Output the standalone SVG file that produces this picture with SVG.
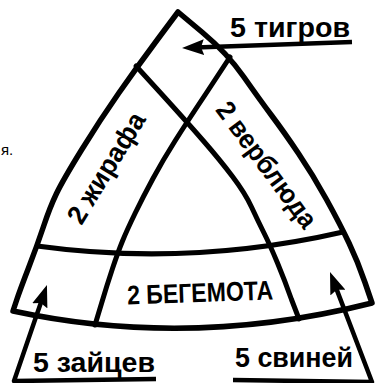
<svg xmlns="http://www.w3.org/2000/svg" width="376" height="383" viewBox="0 0 376 383">
<defs>
<style>
.ln{fill:none;stroke:#000;stroke-width:5;stroke-linecap:round;stroke-linejoin:round}
.out{stroke-width:5.5}
.lbl{font-family:"Liberation Sans",Arial,sans-serif;font-weight:bold;font-size:27px;fill:#000}
.arr{fill:none;stroke:#000;stroke-width:4.5;stroke-linejoin:round;marker-end:url(#ah)}
</style>
<marker id="ah" viewBox="0 0 22 16" refX="8" refY="8" markerWidth="22" markerHeight="16" markerUnits="userSpaceOnUse" orient="auto"><path d="M0,0 L22,8 L0,16 L3,8 Z" fill="#000"/></marker>
</defs>
<rect width="376" height="383" fill="#fff"/>
<g id="frame">
<path class="ln out" d="M13,311 L16.5,300.5 Q20,290 28.5,268 Q37,246 43.5,226.5 Q50,207 56.5,193.5 Q63,180 81.5,150 Q100,120 118.5,93.5 Q137,67 157.5,39.5 L178,12 L202.5,32.5 Q227,53 243.5,76.5 Q260,100 272,116 Q284,132 298.5,153.5 Q313,175 326.5,199.5 Q340,224 349,243 Q358,262 365,282.5 L372,303 Q190,349 13,311 Z"/>
<path class="ln" d="M37,246 Q190,267 343,232"/>
<path class="ln" d="M136,66 L162,94.5 Q187,122 203.5,141 Q220,160 232.5,176.5 Q245,193 251.5,207 Q258,221 264,233 Q270,245 277.5,263 Q285,281 291.5,299.5 L299,319"/>
<path class="ln" d="M230,57 L207,92 Q187,122 175,141 Q163,160 153,178.5 Q143,197 135,213.5 Q127,230 122.5,241 Q118,252 112.5,268.5 Q107,285 101.5,303.5 L95,325"/>
</g>
<g id="tigers"><text class="lbl" x="230" y="37" textLength="120" lengthAdjust="spacingAndGlyphs">5 тигров</text></g>
<g id="giraffes"><text class="lbl" transform="translate(108,169) rotate(-58.6)" x="0" y="7" text-anchor="middle" textLength="125" lengthAdjust="spacingAndGlyphs">2 жирафа</text></g>
<g id="camels"><text class="lbl" transform="translate(265,166) rotate(53.4)" x="0" y="7" text-anchor="middle" textLength="150" lengthAdjust="spacingAndGlyphs">2 верблюда</text></g>
<g id="hippos"><text class="lbl" transform="rotate(-2 200 292)" x="127" y="302" textLength="146" lengthAdjust="spacingAndGlyphs">2 БЕГЕМОТА</text></g>
<g id="hares"><text class="lbl" x="33" y="372" textLength="122" lengthAdjust="spacingAndGlyphs">5 зайцев</text></g>
<g id="pigs"><text class="lbl" x="235" y="367" textLength="118" lengthAdjust="spacingAndGlyphs">5 свиней</text></g>
<g id="note"><text x="1" y="155" style="font-family:'Liberation Sans',Arial,sans-serif;font-size:15px">я.</text></g>
<g id="connectors">
<path class="arr" d="M352,42 L196,47.5"/>
<path class="arr" d="M156,379 L14,381 L42.4,298.2"/>
<path class="arr" d="M233,380 L372,382 L335,285.1"/>
</g>
</svg>
